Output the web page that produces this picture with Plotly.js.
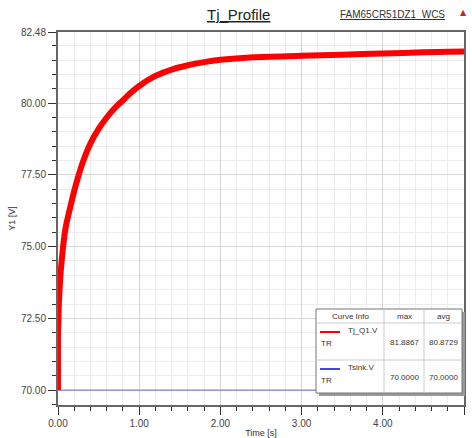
<!DOCTYPE html>
<html><head><meta charset="utf-8">
<script src="https://cdn.plot.ly/plotly-3.0.1.min.js"></script>
<style>body{margin:0;background:#fff}#c{width:472px;height:438px}</style>
</head><body><div id="c"></div>
<script>
const timeS = [0,0.0001,0.005,0.012,0.03,0.045,0.08,0.1,0.17,0.2,0.25,0.3,0.4,0.5,0.6,0.7,0.8,0.9,1.0,1.2,1.4,1.6,1.8,2.0,2.4,3.0,3.5,4.0,4.5,5.0];
const tjQ1 = [70,72.0,72.4,73.1,74.0,74.5,75.4,75.75,76.6,76.95,77.45,77.9,78.6,79.1,79.5,79.83,80.1,80.37,80.6,80.95,81.17,81.32,81.43,81.51,81.6,81.65,81.69,81.73,81.77,81.8];
const sinkTime = [0,5];
const tsink = [70,70];
const yTickVals = [70,72.5,75,77.5,80,82.48];
const yTickText = ['70.00','72.50','75.00','77.50','80.00','82.48'];
const tableHeader = ['Curve Info','max','avg'];
const tableRows = [['Tj_Q1.V','81.8867','80.8729'],['Tsink.V','70.0000','70.0000']];
const tableColors = ['#ff0000','#4444ee'];

const L=58, R=464, T=32, B=405;
const px = x => (x-L)/(R-L);
const py = y => (B-y)/(B-T);

const shapes = [];
const ann = [];
function txt(x,y,text,font,xa){ann.push({xref:'paper',yref:'paper',x:px(x),y:py(y),text:text,showarrow:false,font:font,xanchor:xa||'center',yanchor:'middle'});}
// legend table
const tx0=316, tx1=462, ty0=309, ty1=393, c1=384, c2=424, r1=323, r2=360;
shapes.push({type:'rect',xref:'paper',yref:'paper',x0:px(tx0+3),x1:px(tx1+3),y0:py(ty0+3),y1:py(ty1+3),fillcolor:'#999',line:{width:0},layer:'above'});
shapes.push({type:'rect',xref:'paper',yref:'paper',x0:px(tx0),x1:px(tx1),y0:py(ty0),y1:py(ty1),fillcolor:'#fff',line:{color:'#777',width:1},layer:'above'});
[[c1,ty0,c1,ty1],[c2,ty0,c2,ty1],[tx0,r1,tx1,r1],[tx0,r2,tx1,r2]].forEach(s=>shapes.push({type:'line',xref:'paper',yref:'paper',x0:px(s[0]),x1:px(s[2]),y0:py(s[1]),y1:py(s[3]),line:{color:'#ccc',width:1},layer:'above'}));
const f = {family:'Liberation Sans, Arial',size:8,color:'#333'};
txt((tx0+c1)/2,(ty0+r1)/2,tableHeader[0],f);
txt((c1+c2)/2,(ty0+r1)/2,tableHeader[1],f);
txt((c2+tx1)/2,(ty0+r1)/2,tableHeader[2],f);
const rowTop=[r1,r2], rowBot=[r2,ty1];
tableRows.forEach((r,i)=>{
  const top=rowTop[i];
  shapes.push({type:'line',xref:'paper',yref:'paper',x0:px(320),x1:px(340),y0:py(top+9),y1:py(top+9),line:{color:tableColors[i],width:2},layer:'above'});
  txt(346,top+7,r[0],f,'left');
  txt(319,top+20,'TR',f,'left');
  const mid=(top+rowBot[i])/2+1;
  txt((c1+c2)/2,mid,r[1],f);
  txt((c2+tx1)/2,mid,r[2],f);
});
// titles
txt(238,15,'<u>Tj_Profile</u>',{family:'Liberation Sans, Arial',size:15,color:'#222'});
txt(392,15,'<u>FAM65CR51DZ1_WCS</u>',{family:'Liberation Sans, Arial',size:10,color:'#333'});
txt(463,13,'▲',{family:'DejaVu Sans',size:8,color:'#cc2222'});

const data = [
  {x:sinkTime,y:tsink,mode:'lines',line:{color:'#8080ee',width:1.2},hoverinfo:'skip'},
  {x:timeS,y:tjQ1,mode:'lines',line:{color:'#ff0000',width:6,shape:'spline',smoothing:0.8},hoverinfo:'skip'}
];
const tf = {family:'Liberation Sans, Arial',size:10,color:'#444'};
const layout = {
  width:472,height:438,margin:{l:L,r:472-R,t:T,b:438-B},
  paper_bgcolor:'#fff',plot_bgcolor:'#fff',showlegend:false,
  xaxis:{range:[0,5],tickmode:'linear',tick0:0,dtick:1,tickformat:'.2f',ticks:'outside',ticklen:8,tickcolor:'#333',
    showline:true,linecolor:'#666',linewidth:2,mirror:true,showgrid:true,gridcolor:'#d4d4d4',gridwidth:1,zeroline:false,
    tickfont:tf,minor:{dtick:0.2,tick0:0,ticks:'outside',ticklen:4,tickcolor:'#333',showgrid:true,gridcolor:'#ececec'},
    title:{text:'Time [s]',font:{family:'Liberation Sans, Arial',size:9,color:'#333'},standoff:2}},
  yaxis:{range:[69.48,82.48],tickmode:'array',tickvals:yTickVals,ticktext:yTickText,ticks:'outside',ticklen:8,tickcolor:'#333',
    showline:true,linecolor:'#666',linewidth:2,mirror:true,showgrid:true,gridcolor:'#d4d4d4',zeroline:false,
    tickfont:tf,minor:{dtick:0.5,tick0:70,ticks:'outside',ticklen:4,tickcolor:'#333',showgrid:true,gridcolor:'#ececec'},
    title:{text:'Y1 [V]',font:{family:'Liberation Sans, Arial',size:9,color:'#333'},standoff:4}},
  shapes:shapes,annotations:ann
};
Plotly.newPlot('c',data,layout,{staticPlot:true});
</script></body></html>
